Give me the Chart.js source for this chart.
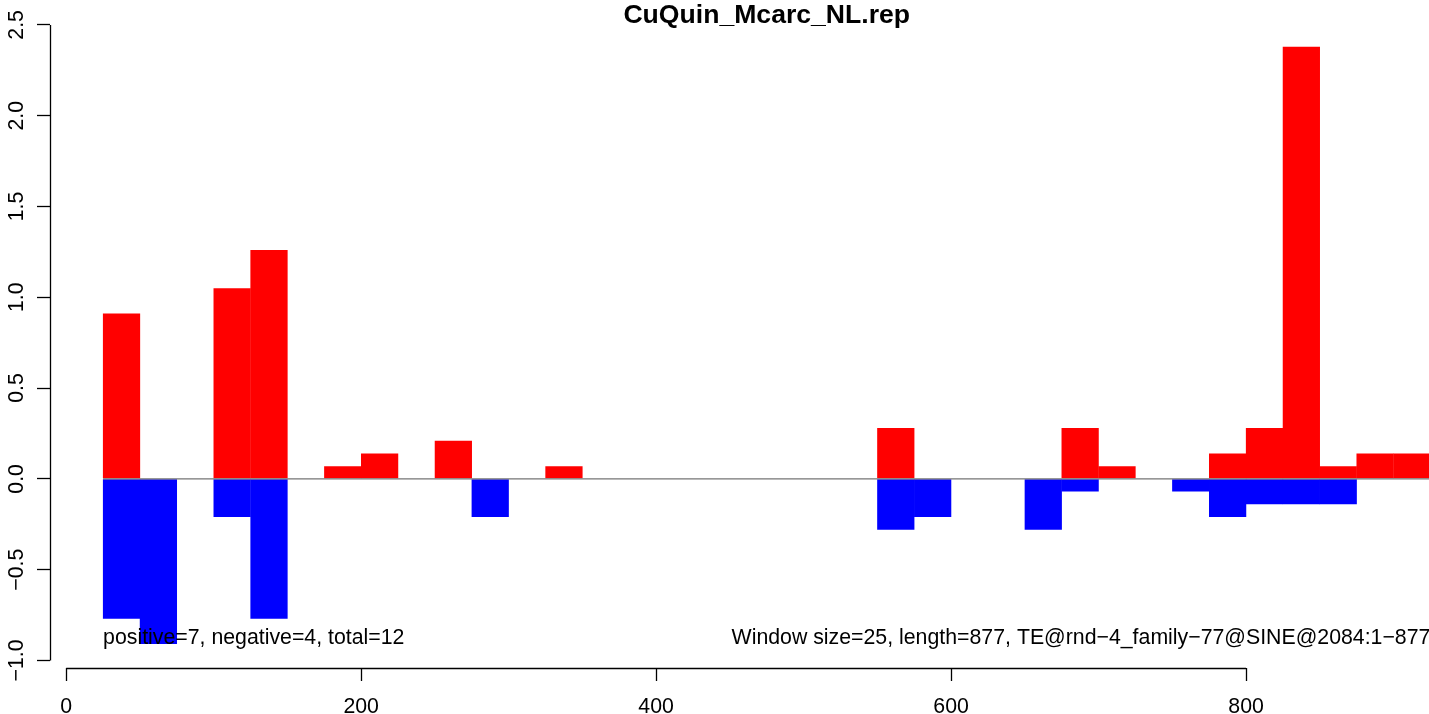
<!DOCTYPE html>
<html>
<head>
<meta charset="utf-8">
<title>CuQuin_Mcarc_NL.rep</title>
<script src="https://cdn.jsdelivr.net/npm/chart.js@4.4.1/dist/chart.umd.min.js"></script>
<style>
  html, body { margin: 0; padding: 0; overflow: hidden; background: #fff; }
  #wrap { width: 1500px; height: 714px; }
</style>
</head>
<body>
<div id="wrap"><canvas id="chart"></canvas></div>
<script>
// Window start positions (bp), one window every 25 bp
var windowStarts = [25, 50, 75, 100, 125, 150, 175, 200, 225, 250, 275, 300,
  325, 350, 375, 400, 425, 450, 475, 500, 525, 550, 575, 600,
  625, 650, 675, 700, 725, 750, 775, 800, 825, 850, 875, 900];

// Score per window, positive strand (red) and negative strand (blue)
var positive = [0.91, 0, 0, 1.05, 1.26, 0, 0.07, 0.14, 0, 0.21, 0, 0,
  0.07, 0, 0, 0, 0, 0, 0, 0, 0, 0.28, 0, 0,
  0, 0, 0.28, 0.07, 0, 0, 0.14, 0.28, 2.38, 0.07, 0.14, 0.14];
var negative = [-0.77, -0.91, 0, -0.21, -0.77, 0, 0, 0, 0, 0, -0.21, 0,
  0, 0, 0, 0, 0, 0, 0, 0, 0, -0.28, -0.21, 0,
  0, -0.28, -0.07, 0, 0, -0.07, -0.21, -0.14, -0.14, -0.14, 0, 0];

// Axis ticks
var xTickValues = [0, 200, 400, 600, 800];
var yTickValues = [-1.0, -0.5, 0.0, 0.5, 1.0, 1.5, 2.0, 2.5];

var windowSize = 25;
var titleText = 'CuQuin_Mcarc_NL.rep';
var leftNote = 'positive=7, negative=4, total=12';
var rightNote = 'Window size=25, length=877, TE@rnd\u22124_family\u221277@SINE@2084:1\u2212877';

var FONT = '"Liberation Sans", Arial, Helvetica, sans-serif';
var TEXT_SIZE = 21.3;

// bars are centred on the middle of each window, zero windows are left out
function toBars(values) {
  return values.map(function(v, i) {
    return { x: windowStarts[i] + windowSize / 2, y: v === 0 ? null : v };
  });
}

function minus(s) {
  return String(s).replace('-', '\u2212');
}

// R style axes: lines only between first and last tick, title and notes
var rDecor = {
  id: 'rDecor',
  afterDraw: function(chart) {
    var ctx = chart.ctx;
    var xs = chart.scales.x;
    var ys = chart.scales.y;
    var area = chart.chartArea;
    var lx = Math.round(area.left) + 0.5;
    var by = Math.round(area.bottom) + 0.5;

    ctx.save();
    ctx.strokeStyle = '#000';
    ctx.lineWidth = 1.3;
    ctx.beginPath();
    ctx.moveTo(lx, ys.getPixelForValue(yTickValues[0]));
    ctx.lineTo(lx, ys.getPixelForValue(yTickValues[yTickValues.length - 1]));
    ctx.moveTo(xs.getPixelForValue(xTickValues[0]), by);
    ctx.lineTo(xs.getPixelForValue(xTickValues[xTickValues.length - 1]), by);
    ctx.stroke();

    ctx.fillStyle = '#000';
    ctx.textBaseline = 'alphabetic';
    ctx.font = 'bold 26.6px ' + FONT;
    ctx.textAlign = 'center';
    ctx.fillText(titleText, (area.left + area.right) / 2, 23);

    ctx.font = TEXT_SIZE + 'px ' + FONT;
    var ny = ys.getPixelForValue(-0.91);
    ctx.textAlign = 'left';
    ctx.fillText(leftNote, xs.getPixelForValue(windowStarts[0]), ny);
    ctx.textAlign = 'right';
    ctx.fillText(rightNote, xs.getPixelForValue(windowStarts[windowStarts.length - 1] + windowSize), ny);
    ctx.restore();
  }
};

new Chart(document.getElementById('chart'), {
  type: 'bar',
  data: {
    datasets: [
      {
        type: 'line',
        data: [{ x: 25, y: 0 }, { x: 925, y: 0 }],
        borderColor: '#747474',
        borderWidth: 1.2,
        pointRadius: 0,
        order: 0
      },
      {
        data: toBars(positive),
        backgroundColor: '#ff0000',
        grouped: false,
        barPercentage: 1.01,
        categoryPercentage: 1,
        order: 1
      },
      {
        data: toBars(negative),
        backgroundColor: '#0000ff',
        grouped: false,
        barPercentage: 1.01,
        categoryPercentage: 1,
        order: 1
      }
    ]
  },
  options: {
    responsive: true,
    maintainAspectRatio: false,
    animation: false,
    layout: { padding: { top: 22.8, right: 16.5, left: 0, bottom: 0 } },
    plugins: {
      legend: { display: false },
      title: { display: false },
      tooltip: { enabled: false }
    },
    scales: {
      x: {
        type: 'linear',
        min: -11,
        max: 961,
        offset: false,
        afterFit: function(scale) { scale.height = 46; },
        afterBuildTicks: function(scale) {
          scale.ticks = xTickValues.map(function(v) { return { value: v }; });
        },
        border: { display: false },
        grid: {
          offset: false,
          drawOnChartArea: false,
          drawTicks: true,
          tickLength: 13,
          tickColor: '#000',
          tickWidth: 1.3
        },
        ticks: {
          color: '#000',
          font: { family: FONT, size: TEXT_SIZE },
          padding: 13,
          maxRotation: 0,
          autoSkip: false,
          callback: function(v) { return String(v); }
        }
      },
      y: {
        min: -1.0416,
        max: 2.5116,
        afterFit: function(scale) { scale.width = 50; },
        afterBuildTicks: function(scale) {
          scale.ticks = yTickValues.map(function(v) { return { value: v }; });
        },
        border: { display: false },
        grid: {
          drawOnChartArea: false,
          drawTicks: true,
          tickLength: 13,
          tickColor: '#000',
          tickWidth: 1.3
        },
        ticks: {
          color: '#000',
          font: { family: FONT, size: TEXT_SIZE },
          padding: -1.5,
          minRotation: 90,
          maxRotation: 90,
          crossAlign: 'center',
          autoSkip: false,
          callback: function(v) { return minus(v.toFixed(1)); }
        }
      }
    }
  },
  plugins: [rDecor]
});
</script>
</body>
</html>
